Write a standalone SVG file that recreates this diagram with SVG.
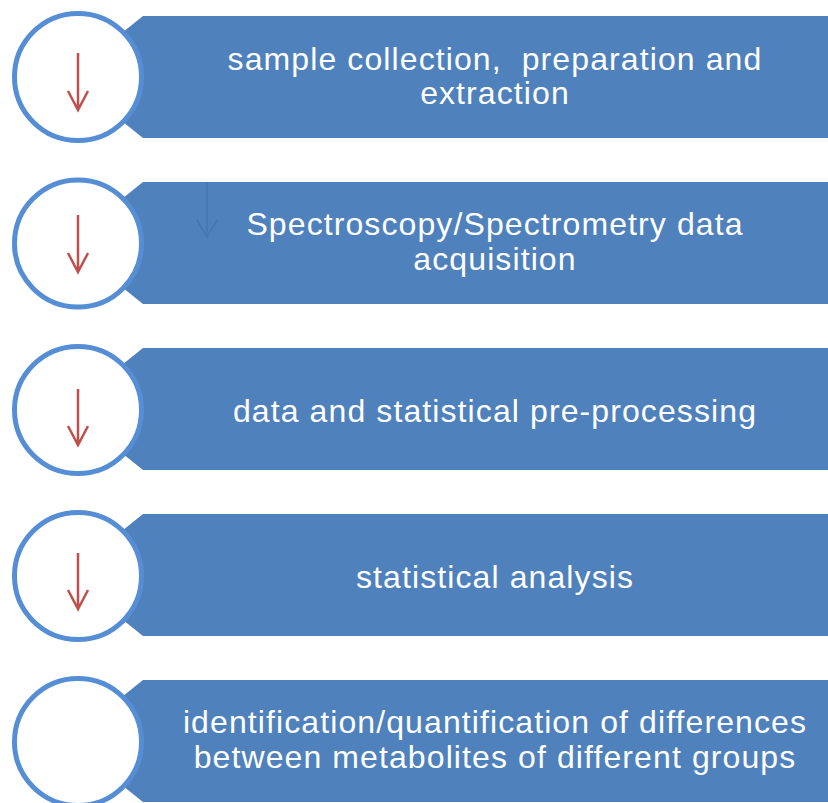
<svg xmlns="http://www.w3.org/2000/svg" width="828" height="803" viewBox="0 0 828 803">
<defs>
<style>
.banner{fill:#4f81bd;}
.circ{fill:#ffffff;stroke:#558ed5;stroke-width:5;}
.lbl{fill:#ffffff;font-family:"Liberation Sans",Arial,sans-serif;font-size:32px;letter-spacing:1.1px;text-anchor:middle;white-space:pre;}
.red{fill:none;stroke:#c0504d;stroke-width:2.5;}
.faint{fill:none;stroke:#4677b2;stroke-width:1.5;}
</style>
</defs>
<rect x="0" y="0" width="828" height="803" fill="#ffffff"/>
<g id="step1">
<polygon class="banner" points="143,16 828,16 828,138 143,138 67,77"/>
<circle class="circ" cx="78" cy="77" r="63.5"/>
<text class="lbl" x="495" y="70" xml:space="preserve">sample collection,  preparation and</text>
<text class="lbl" x="495" y="104">extraction</text>
</g>
<g id="step2">
<polygon class="banner" points="143,182 828,182 828,304 143,304 67,243"/>
<circle class="circ" cx="78" cy="243.5" r="63.5"/>
<text class="lbl" x="495" y="235">Spectroscopy/Spectrometry data</text>
<text class="lbl" x="495" y="270">acquisition</text>
</g>
<g id="step3">
<polygon class="banner" points="143,348 828,348 828,470 143,470 67,409"/>
<circle class="circ" cx="78" cy="410" r="63.5"/>
<text class="lbl" x="495" y="422">data and statistical pre-processing</text>
</g>
<g id="step4">
<polygon class="banner" points="143,514 828,514 828,636 143,636 67,575"/>
<circle class="circ" cx="78" cy="576" r="63.5"/>
<text class="lbl" x="495" y="588">statistical analysis</text>
</g>
<g id="step5">
<polygon class="banner" points="143,680 828,680 828,802 143,802 67,741"/>
<circle class="circ" cx="78" cy="742" r="63.5"/>
<text class="lbl" x="495" y="733">identification/quantification of differences</text>
<text class="lbl" x="495" y="768">between metabolites of different groups</text>
</g>
<g id="connectors">
<path class="red" d="M78,53 V110 M68,91 L78,110 L88,91"/>
<path class="red" d="M78,215 V272 M68,253 L78,272 L88,253"/>
<path class="red" d="M78,389 V445 M68,426 L78,445 L88,426"/>
<path class="red" d="M78,553 V609 M68,590 L78,609 L88,590"/>
<path class="faint" d="M207,182 V237 M197,220 L207,237 L217,220"/>
</g>
</svg>
